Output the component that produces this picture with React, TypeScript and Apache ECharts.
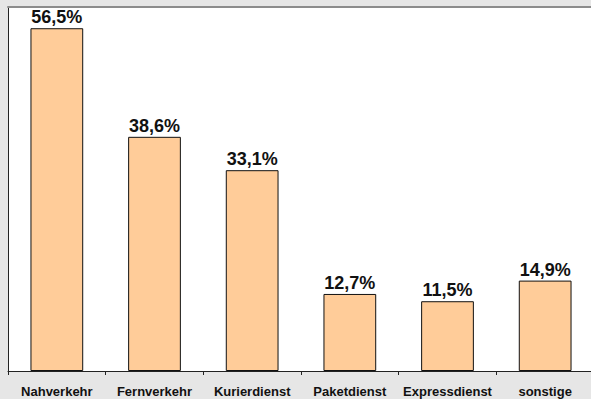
import React, { useEffect, useRef } from "react";
import * as echarts from "echarts";

const categories = ["Nahverkehr", "Fernverkehr", "Kurierdienst", "Paketdienst", "Expressdienst", "sonstige"];
const values = [56.5, 38.6, 33.1, 12.7, 11.5, 14.9];

export default function App() {
  const ref = useRef<HTMLDivElement>(null);
  useEffect(() => {
    const chart = echarts.init(ref.current!, null, { renderer: "svg" });
    chart.setOption({
      animation: false,
      backgroundColor: "#e6e6e6",
      grid: {
        left: 8,
        top: 7,
        right: 30,
        bottom: 28,
        show: true,
        backgroundColor: "#ffffff",
        borderWidth: 0,
      },
      xAxis: [
        {
          type: "category",
          data: categories,
          axisLine: { show: true, lineStyle: { color: "#222", width: 1 } },
          axisTick: { show: true, length: 4, lineStyle: { color: "#222" } },
          axisLabel: {
            margin: 14,
            fontFamily: "'Liberation Sans', Arial, sans-serif",
            fontWeight: "bold",
            fontSize: 13,
            color: "#111",
            interval: 0,
          },
        },
        {
          type: "category",
          position: "top",
          data: categories,
          axisLine: { show: true, lineStyle: { color: "#8c8c8c", width: 2 } },
          axisTick: { show: false },
          axisLabel: { show: false },
        },
      ],
      yAxis: {
        type: "value",
        min: 0,
        max: 60,
        axisLine: { show: true, lineStyle: { color: "#222", width: 1 } },
        axisTick: { show: false },
        axisLabel: { show: false },
        splitLine: { show: false },
      },
      series: [
        {
          type: "bar",
          data: values,
          barWidth: "54%",
          itemStyle: { color: "#ffcc99", borderColor: "#111", borderWidth: 1 },
          label: {
            show: true,
            position: "top",
            distance: 2,
            formatter: (p: any) => p.value.toFixed(1).replace(".", ",") + "%",
            fontFamily: "'Liberation Sans', Arial, sans-serif",
            fontWeight: "bold",
            fontSize: 18,
            color: "#111",
          },
        },
      ],
    });
    return () => chart.dispose();
  }, []);
  return (
    <div style={{ position: "fixed", left: 0, top: 0, width: 591, height: 399, overflow: "hidden" }}>
      <div ref={ref} style={{ width: 624, height: 399 }} />
    </div>
  );
}
